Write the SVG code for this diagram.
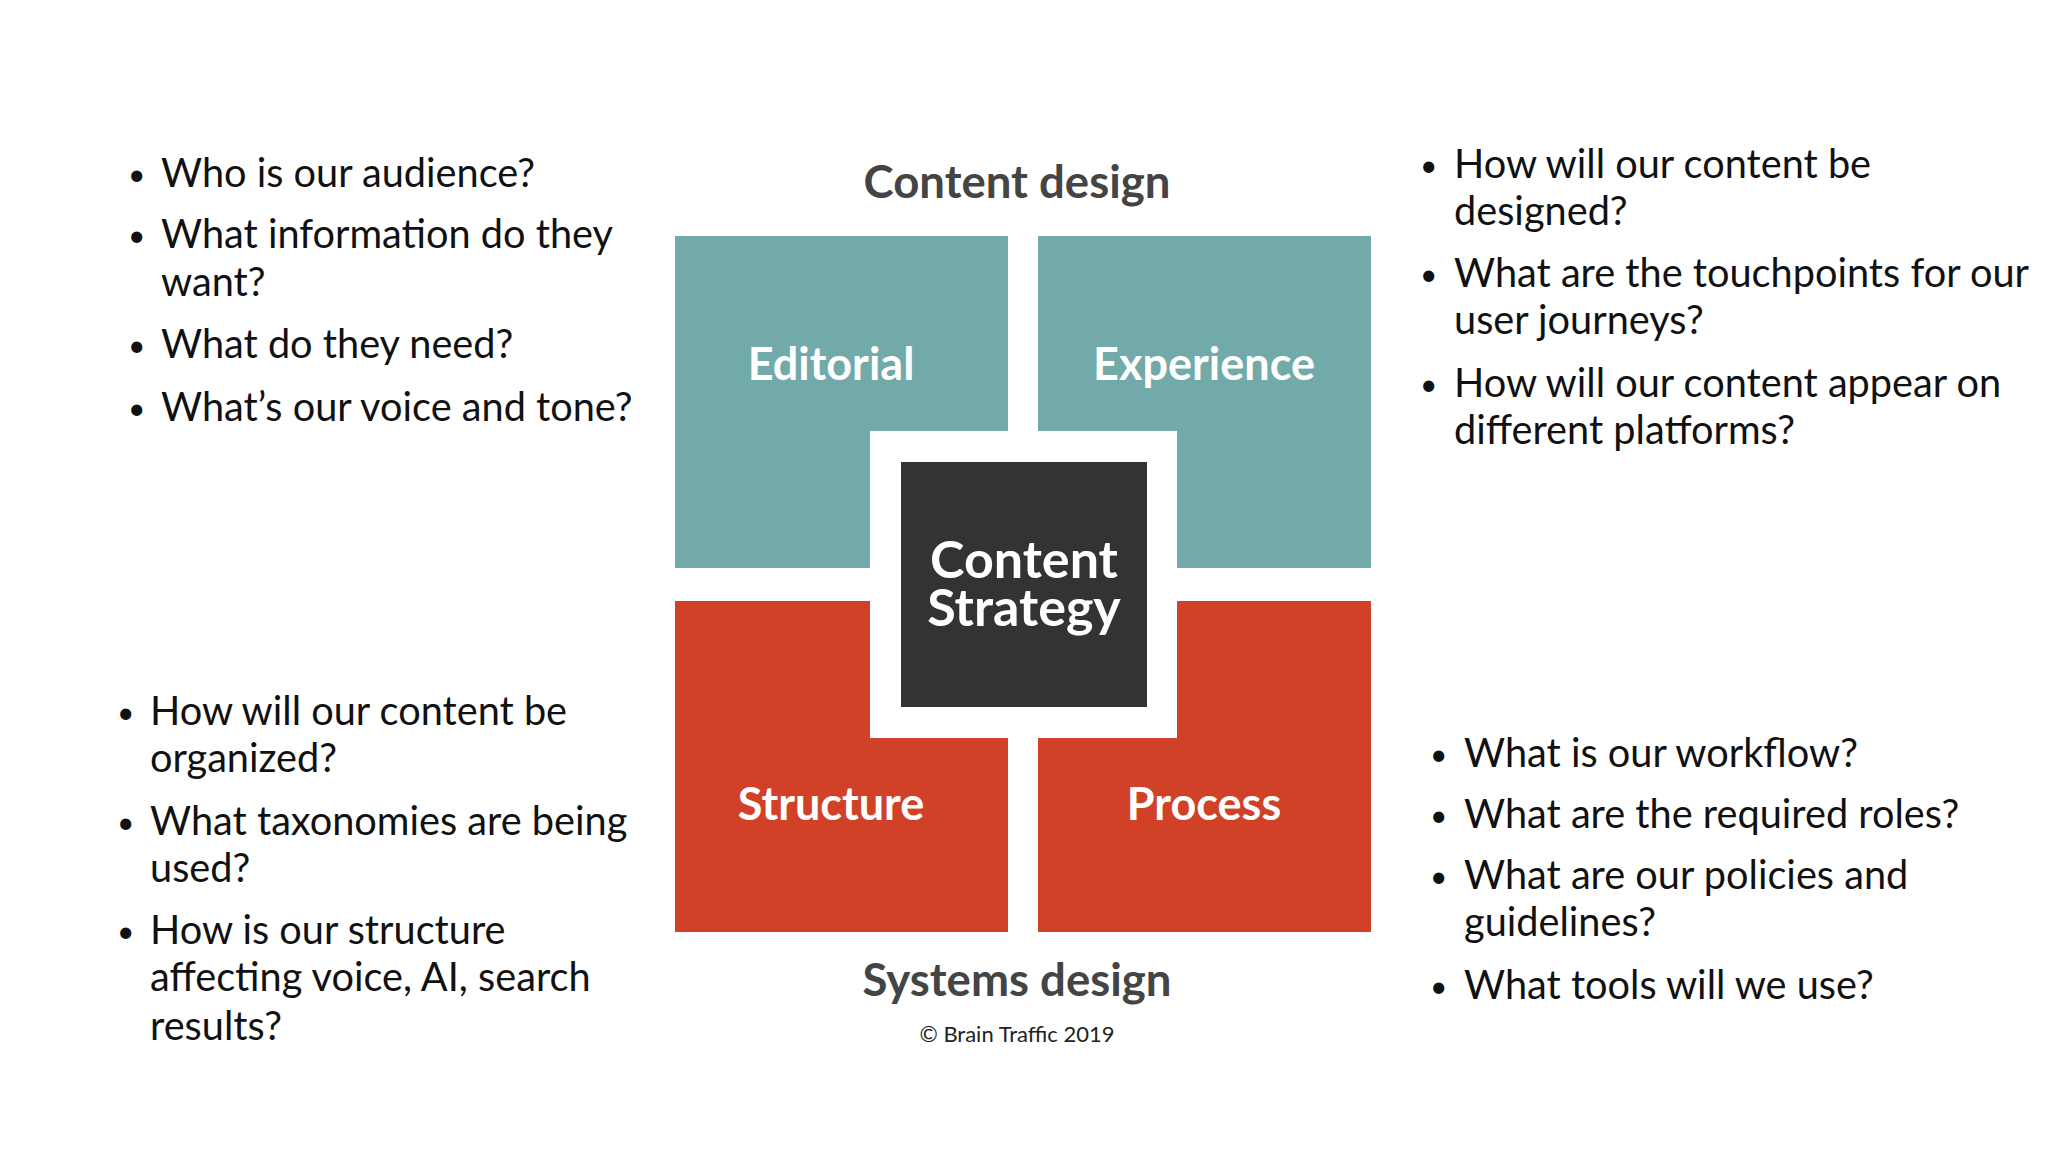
<svg xmlns="http://www.w3.org/2000/svg" width="2048" height="1152" viewBox="0 0 2048 1152">
<style>
.q{font-family:Lato,"Liberation Sans",sans-serif;font-size:39.7px;fill:#111}
.b{font-family:Lato,"Liberation Sans",sans-serif;font-size:30px;fill:#111}
.h{font-family:Lato,"Liberation Sans",sans-serif;font-size:45.5px;font-weight:bold;fill:#444;text-anchor:middle}
.l{font-family:Lato,"Liberation Sans",sans-serif;font-size:45px;font-weight:bold;fill:#fff;text-anchor:middle}
.teal{fill:#72aaa9}.red{fill:#d04128}
</style>
<rect width="2048" height="1152" fill="#fff"/>
<text class="h" x="1017" y="198">Content design</text>
<text class="h" x="1017" y="996">Systems design</text>
<text x="1017" y="1042" text-anchor="middle" font-family="Lato,'Liberation Sans',sans-serif" font-size="22" fill="#222">© Brain Traffic 2019</text>
<g id="editorial"><rect class="teal" x="675" y="236" width="333" height="332"/><text class="l" x="831" y="380">Editorial</text></g>
<g id="experience"><rect class="teal" x="1038" y="236" width="333" height="332"/><text class="l" x="1204" y="380">Experience</text></g>
<g id="structure"><rect class="red" x="675" y="601" width="333" height="331"/><text class="l" x="831" y="820">Structure</text></g>
<g id="process"><rect class="red" x="1038" y="601" width="333" height="331"/><text class="l" x="1204" y="820">Process</text></g>
<g id="strategy"><rect x="870" y="431" width="307" height="307" fill="#fff"/><rect x="901" y="462" width="246" height="245" fill="#333235"/>
<text x="1024" y="578" text-anchor="middle" font-family="Lato,'Liberation Sans',sans-serif" font-size="52" font-weight="bold" fill="#fff">Content</text>
<text x="1024" y="626" text-anchor="middle" font-family="Lato,'Liberation Sans',sans-serif" font-size="52" font-weight="bold" fill="#fff">Strategy</text></g>
<g id="connectors"/>
<g id="q-top-left">
<text class="b" x="128" y="185">•</text><text class="q" x="161" y="187">Who is our audience?</text>
<text class="b" x="128" y="246">•</text><text class="q" x="161" y="248">What information do they</text>
<text class="q" x="161" y="296">want?</text>
<text class="b" x="128" y="356">•</text><text class="q" x="161" y="358">What do they need?</text>
<text class="b" x="128" y="419">•</text><text class="q" x="161" y="421">What’s our voice and tone?</text>
</g>
<g id="q-top-right">
<text class="b" x="1420" y="176">•</text><text class="q" x="1454" y="178">How will our content be</text>
<text class="q" x="1454" y="225">designed?</text>
<text class="b" x="1420" y="285">•</text><text class="q" x="1454" y="287">What are the touchpoints for our</text>
<text class="q" x="1454" y="334">user journeys?</text>
<text class="b" x="1420" y="395">•</text><text class="q" x="1454" y="397">How will our content appear on</text>
<text class="q" x="1454" y="444">different platforms?</text>
</g>
<g id="q-bottom-left">
<text class="b" x="117" y="723">•</text><text class="q" x="150" y="725">How will our content be</text>
<text class="q" x="150" y="772">organized?</text>
<text class="b" x="117" y="833">•</text><text class="q" x="150" y="835">What taxonomies are being</text>
<text class="q" x="150" y="882">used?</text>
<text class="b" x="117" y="942">•</text><text class="q" x="150" y="944">How is our structure</text>
<text class="q" x="150" y="991">affecting voice, AI, search</text>
<text class="q" x="150" y="1040">results?</text>
</g>
<g id="q-bottom-right">
<text class="b" x="1430" y="765">•</text><text class="q" x="1464" y="767">What is our workflow?</text>
<text class="b" x="1430" y="826">•</text><text class="q" x="1464" y="828">What are the required roles?</text>
<text class="b" x="1430" y="887">•</text><text class="q" x="1464" y="889">What are our policies and</text>
<text class="q" x="1464" y="936">guidelines?</text>
<text class="b" x="1430" y="997">•</text><text class="q" x="1464" y="999">What tools will we use?</text>
</g>
</svg>
